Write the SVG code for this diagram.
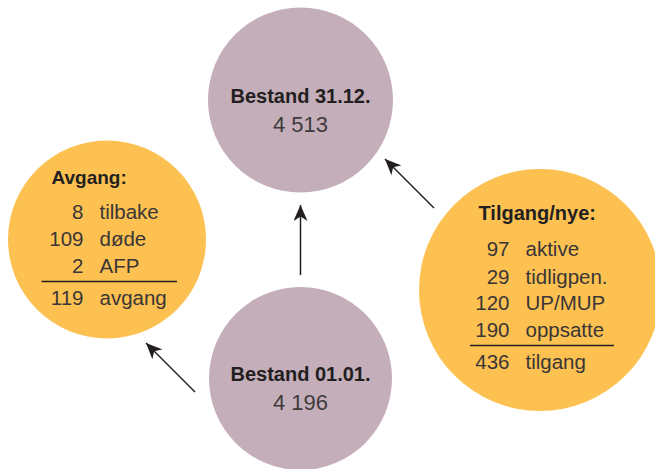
<svg xmlns="http://www.w3.org/2000/svg" width="655" height="469" viewBox="0 0 655 469">
  <style>
    .stock { fill: #C4AEBA; }
    .flow { fill: #FDC152; }
    .head { font-family: "Liberation Sans", Arial, sans-serif; font-weight: bold; fill: #231F20; }
    .val { font-family: "Liberation Sans", Arial, sans-serif; fill: #3f3b3c; }
    .row { font-family: "Liberation Sans", Arial, sans-serif; font-size: 20.5px; fill: #3a3637; }
    .num { text-anchor: end; }
    .rule { stroke: #231F20; stroke-width: 1.6; }
    .arrow { stroke: #231F20; stroke-width: 1.5; fill: none; marker-end: url(#tip); }
  </style>
  <defs>
    <marker id="tip" viewBox="0 0 16 14" refX="16" refY="7" markerWidth="16" markerHeight="14" markerUnits="userSpaceOnUse" orient="auto">
      <path d="M0,0 L16,7 L0,14 L4.5,7 Z" fill="#231F20"/>
    </marker>
  </defs>
  <rect width="655" height="469" fill="#ffffff"/>

  <!-- year-end stock -->
  <g id="bestand-slutt">
    <circle class="stock" cx="300.5" cy="100" r="92.5"/>
    <text class="head" x="300.5" y="103" font-size="20" text-anchor="middle">Bestand 31.12.</text>
    <text class="val" x="300.5" y="132" font-size="22" text-anchor="middle">4 513</text>
  </g>

  <!-- outflow -->
  <g id="avgang">
    <circle class="flow" cx="107" cy="239.5" r="99"/>
    <text class="head" x="51.5" y="183.5" font-size="19">Avgang:</text>
    <g class="row">
      <text class="num" x="83.5" y="218.5">8</text><text x="99.5" y="218.5">tilbake</text>
      <text class="num" x="83.5" y="245.5">109</text><text x="99.5" y="245.5">døde</text>
      <text class="num" x="83.5" y="272.5">2</text><text x="99.5" y="272.5">AFP</text>
      <text class="num" x="83.5" y="305">119</text><text x="99.5" y="305">avgang</text>
    </g>
    <line class="rule" x1="41.5" y1="281.5" x2="177" y2="281.5"/>
  </g>

  <!-- inflow -->
  <g id="tilgang">
    <circle class="flow" cx="540" cy="290" r="121"/>
    <text class="head" x="478.5" y="220" font-size="20">Tilgang/nye:</text>
    <g class="row">
      <text class="num" x="509.5" y="256">97</text><text x="525.5" y="256">aktive</text>
      <text class="num" x="509.5" y="283.5">29</text><text x="525.5" y="283.5">tidligpen.</text>
      <text class="num" x="509.5" y="310">120</text><text x="525.5" y="310">UP/MUP</text>
      <text class="num" x="509.5" y="337">190</text><text x="525.5" y="337">oppsatte</text>
      <text class="num" x="509.5" y="368.5">436</text><text x="525.5" y="368.5">tilgang</text>
    </g>
    <line class="rule" x1="470" y1="345.5" x2="614" y2="345.5" stroke-width="2"/>
  </g>

  <!-- start-of-year stock -->
  <g id="bestand-start">
    <circle class="stock" cx="300.5" cy="378.5" r="91.5"/>
    <text class="head" x="300.5" y="381" font-size="20" text-anchor="middle">Bestand 01.01.</text>
    <text class="val" x="300.5" y="409.5" font-size="22" text-anchor="middle">4 196</text>
  </g>

  <!-- flows between the circles -->
  <g id="connectors">
    <line class="arrow" x1="300.5" y1="275" x2="300.5" y2="205"/>
    <line class="arrow" x1="434" y1="208" x2="385" y2="159"/>
    <line class="arrow" x1="195" y1="392" x2="146" y2="343"/>
  </g>
</svg>
